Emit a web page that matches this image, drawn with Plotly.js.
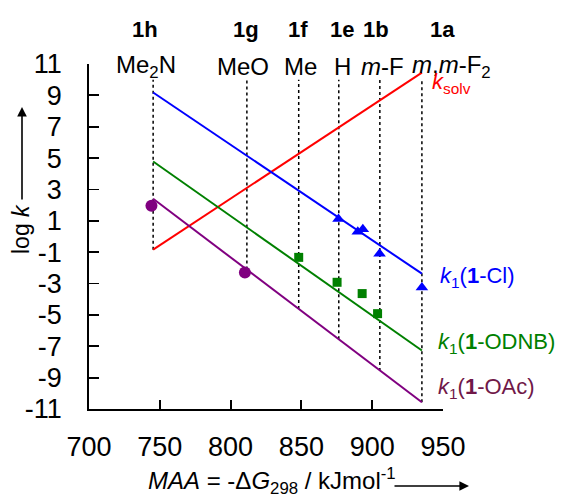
<!DOCTYPE html>
<html>
<head>
<meta charset="utf-8">
<script src="https://cdn.plot.ly/plotly-3.0.1.min.js"></script>
<style>html,body{margin:0;padding:0;background:#fff;}#chart{width:561px;height:497px;}</style>
</head>
<body>
<div id="chart"></div>
<script>
// ---- data ----
const compounds = ['1h', '1g', '1f', '1e', '1b', '1a'];
const substituents = ['Me<sub>2</sub>N', 'MeO', 'Me', 'H', '<i>m</i>-F', '<i>m</i>,<i>m</i>-F<sub>2</sub>'];
const maa = [745.3, 811.5, 848.1, 876.4, 905.4, 935.1];
const dropTop = [10, 10, 10, 10, 10, 10];
const dropBottom = [-0.84, -2.1, -4.62, -6.56, -8.58, -10.57];

const lineX = [745.3, 935.1];
const kSolvLine = [-0.84, 10.45];
const clLine = [9.18, -2.37];
const odnbLine = [4.78, -7.27];
const oacLine = [2.41, -10.57];

const clX = [876.2, 889.8, 893.4, 905.2, 935.1];
const clY = [1.12, 0.31, 0.46, -1.10, -3.26];
const odnbX = [848.1, 875.2, 892.9, 903.8];
const odnbY = [-1.33, -2.92, -3.64, -4.92];
const oacX = [744.1, 810.1];
const oacY = [1.96, -2.29];

const xTicks = [700, 750, 800, 850, 900, 950];
const yTicks = [-11, -9, -7, -5, -3, -1, 1, 3, 5, 7, 9, 11];

const seriesLabels = ['<i>k</i><sub>solv</sub>', '<i>k</i><sub>1</sub>(<b>1</b>-Cl)', '<i>k</i><sub>1</sub>(<b>1</b>-ODNB)', '<i>k</i><sub>1</sub>(<b>1</b>-OAc)'];

// ---- layout constants (pixels) ----
const PL = 89, PR = 443, PT = 64, PB = 409;
const px = x => (x - PL) / (PR - PL);
const py = y => (PB - y) / (PB - PT);
const FONT = 'Liberation Sans, Arial, sans-serif';

const compoundPx = [145.4, 245.7, 298.2, 342.1, 376.0, 442.9];
const substPx = [146.4, 243.2, 300.7, 342.9, 382.1, 451.0];
const seriesColors = ['#ff0000', '#0000ff', '#008000', '#701848'];
const seriesLabelPos = [[430, 83], [438, 277], [436, 343], [436, 388]];

// dotted drop lines
const dX = [], dY = [];
maa.forEach((m, i) => { dX.push(m, m, null); dY.push(dropBottom[i], dropTop[i], null); });

const traces = [
  {x: dX, y: dY, mode: 'lines', line: {color: '#000', width: 1.5, dash: 'dot'}, hoverinfo: 'skip'},
  {x: lineX, y: kSolvLine, mode: 'lines', line: {color: '#ff0000', width: 2}},
  {x: lineX, y: clLine, mode: 'lines', line: {color: '#0000ff', width: 2}},
  {x: lineX, y: odnbLine, mode: 'lines', line: {color: '#008000', width: 2}},
  {x: lineX, y: oacLine, mode: 'lines', line: {color: '#800080', width: 2}},
  {x: clX, y: clY, mode: 'markers', marker: {symbol: 'triangle-up', size: 11, color: '#0000ff'}},
  {x: odnbX, y: odnbY, mode: 'markers', marker: {symbol: 'square', size: 9, color: '#008000'}},
  {x: oacX, y: oacY, mode: 'markers', marker: {symbol: 'circle', size: 12, color: '#800080'}}
];

const annotations = [];
compounds.forEach((c, i) => annotations.push({
  xref: 'paper', yref: 'paper', x: px(compoundPx[i]), y: py(29), xanchor: 'center', yanchor: 'middle',
  text: '<b>' + c + '</b>', showarrow: false, font: {family: FONT, size: 22, color: '#000'}
}));
substituents.forEach((s, i) => annotations.push({
  xref: 'paper', yref: 'paper', x: px(substPx[i]), y: py(66), xanchor: 'center', yanchor: 'middle',
  text: s, showarrow: false, font: {family: FONT, size: 24, color: '#000'}
}));
seriesLabels.forEach((s, i) => annotations.push({
  xref: 'paper', yref: 'paper', x: px(seriesLabelPos[i][0]), y: py(seriesLabelPos[i][1]), xanchor: 'left', yanchor: 'middle',
  text: s, showarrow: false, font: {family: FONT, size: 22, color: seriesColors[i]}
}));
// axis titles
annotations.push({
  xref: 'paper', yref: 'paper', x: px(272), y: py(481), xanchor: 'center', yanchor: 'middle',
  text: '<i>MAA</i> = -Δ<i>G</i><sub>298</sub> / kJmol<sup>-1</sup>', showarrow: false,
  font: {family: FONT, size: 24, color: '#000'}
});
annotations.push({
  xref: 'paper', yref: 'paper', x: px(469), y: py(486), text: '', showarrow: true,
  ax: -76, ay: 0, arrowhead: 2, arrowsize: 1.2, arrowwidth: 1.6, arrowcolor: '#000', standoff: 0, startstandoff: 0
});
annotations.push({
  xref: 'paper', yref: 'paper', x: px(21), y: py(229), xanchor: 'center', yanchor: 'middle', textangle: -90,
  text: 'log <i>k</i>', showarrow: false, font: {family: FONT, size: 23, color: '#000'}
});
annotations.push({
  xref: 'paper', yref: 'paper', x: px(22), y: py(107), text: '', showarrow: true,
  ax: 0, ay: 94, arrowhead: 2, arrowsize: 1.2, arrowwidth: 1.6, arrowcolor: '#000', standoff: 0, startstandoff: 0
});

const layout = {
  width: 561, height: 497,
  margin: {l: PL, r: 561 - PR, t: PT, b: 497 - PB, pad: 0},
  paper_bgcolor: '#fff', plot_bgcolor: '#fff',
  showlegend: false,
  font: {family: FONT, color: '#000'},
  xaxis: {
    range: [700, 950], tickvals: xTicks, ticktext: xTicks.map(String),
    ticks: 'inside', ticklen: 9, tickwidth: 1.8, tickcolor: '#000',
    showline: true, linewidth: 1.8, linecolor: '#000', showgrid: false, zeroline: false,
    tickfont: {family: FONT, size: 27, color: '#000'}, ticklabelstandoff: 13
  },
  yaxis: {
    range: [-11, 11], tickvals: yTicks, ticktext: yTicks.map(String),
    ticks: 'inside', ticklen: 10, tickwidth: 1.8, tickcolor: '#000',
    showline: true, linewidth: 1.8, linecolor: '#000', showgrid: false, zeroline: false,
    tickfont: {family: FONT, size: 27, color: '#000'}, ticklabelstandoff: 20
  },
  annotations: annotations
};

Plotly.newPlot('chart', traces, layout, {staticPlot: true, displayModeBar: false});
</script>
</body>
</html>
